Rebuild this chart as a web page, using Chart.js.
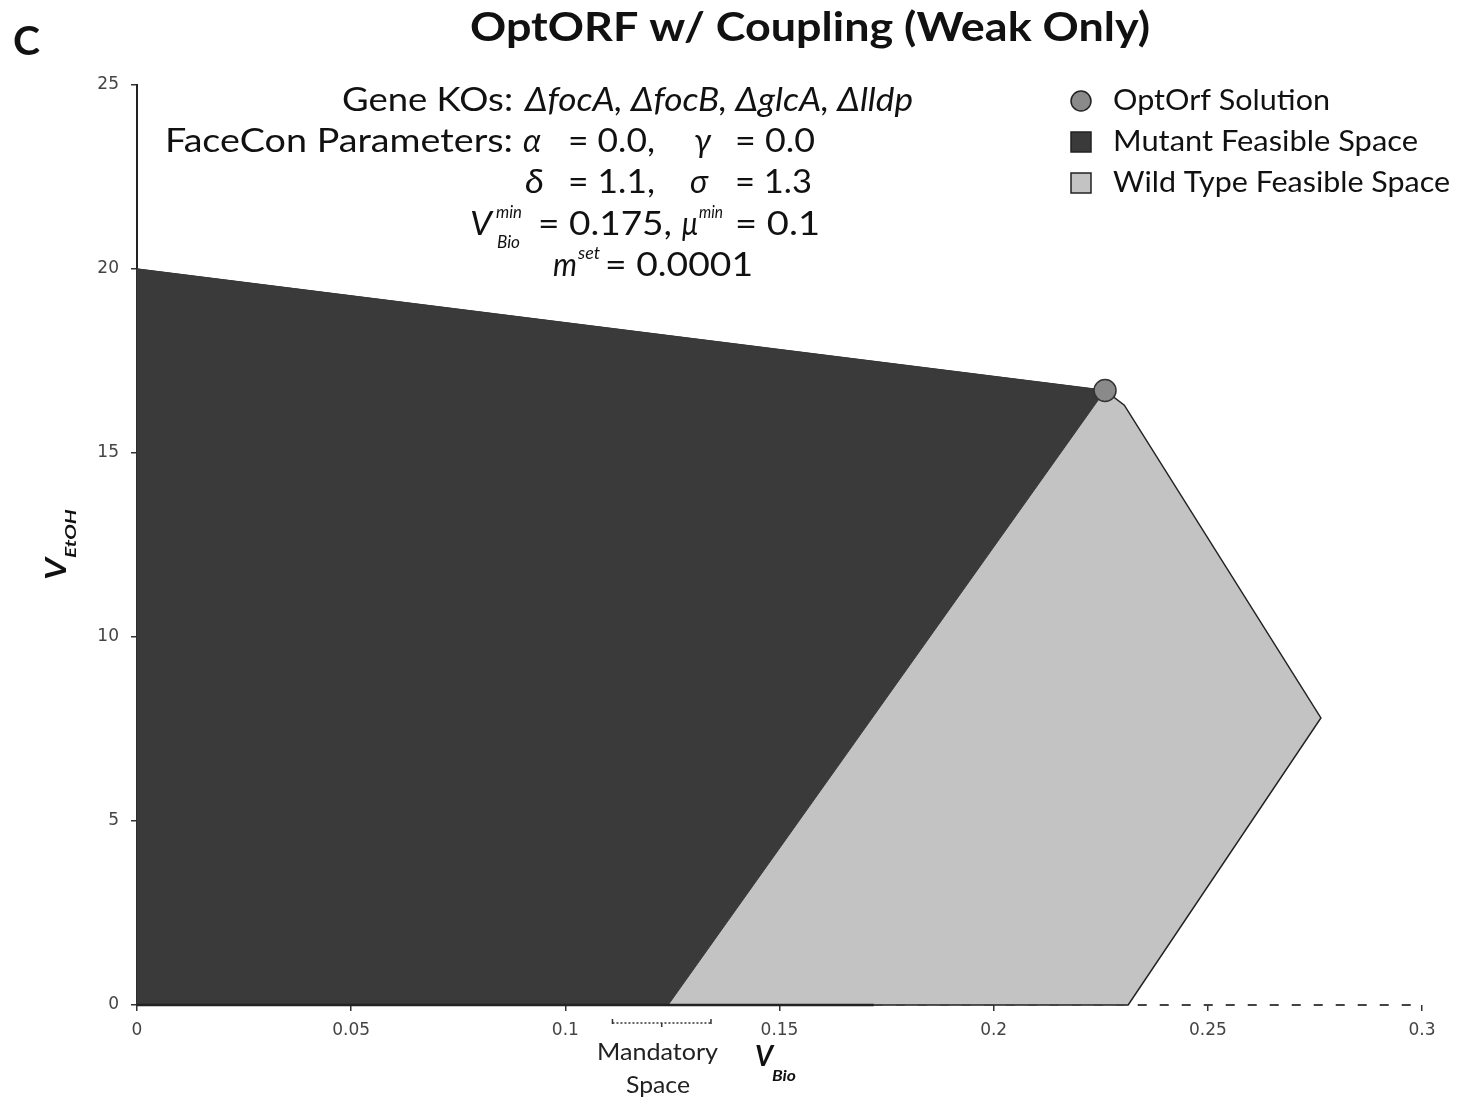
<!DOCTYPE html>
<html>
<head>
<meta charset="utf-8">
<script src="https://cdn.jsdelivr.net/npm/chart.js@4/dist/chart.umd.min.js"></script>
<style>
  body { margin: 0; background: #fff; }
  #wrap { width: 1458px; height: 1110px; }
</style>
</head>
<body>
<div id="wrap"><canvas id="ChartDetail" width="1458" height="1110"></canvas></div>
<script>
// feasible spaces (x = v_Bio, y = v_EtOH)
var mutantX = [0, 0, 0.226, 0.124, 0];
var mutantY = [0, 20, 16.7, 0, 0];
var wildX = [0, 0, 0.226, 0.2305, 0.2764, 0.2314, 0];
var wildY = [0, 20, 16.7, 16.3, 7.8, 0, 0];
var solutionX = [0.226];
var solutionY = [16.7];
// x axis: solid part, then dashed part
var axisSolidX = [0, 0.172];
var axisDashX = [0.172, 0.3];
var mandatoryRange = [0.111, 0.134];

var xTickLabels = ['0', '0.05', '0.1', '0.15', '0.2', '0.25', '0.3'];
var yTickLabels = ['0', '5', '10', '15', '20', '25'];

var textFont = "Lato, 'Noto Sans', sans-serif";

function pts(xs, ys) {
    return xs.map(function(x, i) { return {x: x, y: ys[i]}; });
}

var dark = '#3a3a3a';
var light = '#c3c3c3';

// draw str between left and right, stretched a little to fit that width
function fitText(ctx, str, left, right, y, style, size) {
    ctx.font = style + ' ' + size + 'px ' + textFont;
    ctx.textAlign = 'left';
    var w = ctx.measureText(str).width;
    var sx = Math.max(0.8, Math.min(1.3, (right - left) / w));
    ctx.save();
    ctx.translate(left, y);
    ctx.scale(sx, 1);
    ctx.fillText(str, 0, 0);
    ctx.restore();
}

var textPlugin = {
    id: 'figText',
    afterDraw: function(chart) {
        var ctx = chart.ctx;
        var xs = chart.scales.x;
        ctx.save();
        ctx.fillStyle = '#111';
        ctx.textBaseline = 'middle';

        // panel letter + title
        fitText(ctx, 'C', 13, 40, 42, 'bold', 40);
        fitText(ctx, 'OptORF w/ Coupling (Weak Only)', 470, 1150, 28, 'bold', 40);

        // parameter block
        var R = 'normal', I = 'italic';
        fitText(ctx, 'Gene KOs:', 342, 513, 101, R, 32);
        fitText(ctx, '\u0394focA, \u0394focB, \u0394glcA, \u0394lldp', 525, 913, 101, I, 32);

        fitText(ctx, 'FaceCon Parameters:', 165, 513, 142, R, 32);
        fitText(ctx, '\u03b1', 523, 541, 142, I, 32);
        fitText(ctx, '= 0.0,', 568, 655, 142, R, 32);
        fitText(ctx, '\u03b3', 694, 711, 142, I, 32);
        fitText(ctx, '= 0.0', 735, 815, 142, R, 32);

        fitText(ctx, '\u03b4', 525, 544, 183, I, 32);
        fitText(ctx, '= 1.1,', 568, 655, 183, R, 32);
        fitText(ctx, '\u03c3', 690, 708, 183, I, 32);
        fitText(ctx, '= 1.3', 735, 812, 183, R, 32);

        fitText(ctx, 'V', 470, 492, 225, I, 32);
        fitText(ctx, 'min', 496, 522, 213, I, 17);
        fitText(ctx, 'Bio', 497, 520, 243, I, 17);
        fitText(ctx, '= 0.175,', 538, 672, 225, R, 32);
        fitText(ctx, '\u03bc', 682, 698, 225, I, 32);
        fitText(ctx, 'min', 699, 723, 213, I, 17);
        fitText(ctx, '= 0.1', 735, 820, 225, R, 32);

        fitText(ctx, 'm', 553, 577, 266, I, 32);
        fitText(ctx, 'set', 578, 600, 254, I, 17);
        fitText(ctx, '= 0.0001', 605, 753, 266, R, 32);

        // legend
        var legendRight = [1330, 1418, 1450];
        var items = chart.data.datasets.filter(function(d) { return d.legendKind; });
        items.forEach(function(d, i) {
            var cy = 101 + i * 41;
            ctx.lineWidth = 1.5;
            ctx.strokeStyle = '#222';
            ctx.fillStyle = d.backgroundColor;
            if (d.legendKind === 'circle') {
                ctx.beginPath();
                ctx.arc(1081, cy, 10, 0, Math.PI * 2);
                ctx.fill();
                ctx.stroke();
            } else {
                ctx.fillRect(1071, cy - 10, 20, 20);
                ctx.strokeRect(1071, cy - 10, 20, 20);
            }
            ctx.fillStyle = '#111';
            fitText(ctx, d.label, 1113, legendRight[i], cy, 'normal', 29);
        });

        // axis titles
        ctx.fillStyle = '#111';
        fitText(ctx, 'V', 755, 773, 1057, 'bold italic', 28);
        fitText(ctx, 'Bio', 772, 796, 1076, 'bold italic', 16);

        ctx.save();
        ctx.translate(57, 569);
        ctx.rotate(-Math.PI / 2);
        fitText(ctx, 'V', -11, 11, 0, 'bold italic', 28);
        fitText(ctx, 'EtOH', 11, 61, 14, 'bold italic', 16);
        ctx.restore();

        // mandatory space bracket
        var a = xs.getPixelForValue(mandatoryRange[0]);
        var b = xs.getPixelForValue(mandatoryRange[1]);
        ctx.strokeStyle = '#333';
        ctx.lineWidth = 1.5;
        ctx.setLineDash([2, 2]);
        ctx.beginPath();
        ctx.moveTo(a, 1023); ctx.lineTo(b, 1023);
        ctx.stroke();
        ctx.setLineDash([]);
        ctx.beginPath();
        ctx.moveTo(a, 1019); ctx.lineTo(a, 1024);
        ctx.moveTo(b, 1019); ctx.lineTo(b, 1024);
        ctx.moveTo((a + b) / 2, 1023); ctx.lineTo((a + b) / 2, 1027);
        ctx.stroke();
        ctx.fillStyle = '#222';
        fitText(ctx, 'Mandatory', 597, 718, 1052, 'normal', 24);
        fitText(ctx, 'Space', 626, 690, 1085, 'normal', 24);

        ctx.restore();
    }
};

var config = {
    type: 'scatter',
    data: {
        datasets: [
            {
                label: 'OptOrf Solution',
                legendKind: 'circle',
                data: pts(solutionX, solutionY),
                backgroundColor: '#8a8a8a',
                borderColor: '#333',
                borderWidth: 1.5,
                pointRadius: 11,
                order: 0,
                clip: false
            },
            {
                label: 'Mutant Feasible Space',
                legendKind: 'square',
                data: pts(mutantX, mutantY),
                showLine: true,
                fill: 'shape',
                backgroundColor: dark,
                borderColor: dark,
                borderWidth: 1,
                pointRadius: 0,
                tension: 0,
                order: 1,
                clip: false
            },
            {
                label: 'Wild Type Feasible Space',
                legendKind: 'square',
                data: pts(wildX, wildY),
                showLine: true,
                fill: 'shape',
                backgroundColor: light,
                borderColor: '#222',
                borderWidth: 1.5,
                pointRadius: 0,
                tension: 0,
                order: 2,
                clip: false
            },
            {
                label: 'axis',
                data: pts(axisSolidX, [0, 0]),
                showLine: true,
                borderColor: '#222',
                borderWidth: 2.5,
                pointRadius: 0,
                order: -1,
                clip: false
            },
            {
                label: 'axis dashed',
                data: pts(axisDashX, [0, 0]),
                showLine: true,
                borderColor: '#444',
                borderWidth: 2,
                borderDash: [9, 13],
                pointRadius: 0,
                order: -1,
                clip: false
            }
        ]
    },
    options: {
        responsive: false,
        animation: false,
        layout: { padding: { left: 0, right: 36, top: 85, bottom: 0 } },
        plugins: {
            legend: { display: false },
            tooltip: { enabled: false }
        },
        scales: {
            x: {
                type: 'linear',
                min: 0,
                max: 0.3,
                afterFit: function(s) { s.height = 105; },
                afterBuildTicks: function(s) {
                    s.ticks = xTickLabels.map(function(t) { return {value: parseFloat(t)}; });
                },
                border: { display: false },
                grid: { drawOnChartArea: false, drawTicks: true, tickLength: 6, color: '#333', lineWidth: 1.5 },
                ticks: {
                    padding: 9,
                    color: '#444',
                    font: { family: "'DejaVu Sans'", size: 17 },
                    maxRotation: 0,
                    callback: function(v, i) { return xTickLabels[i]; }
                }
            },
            y: {
                type: 'linear',
                min: 0,
                max: 25,
                afterFit: function(s) { s.width = 137; },
                afterBuildTicks: function(s) {
                    s.ticks = yTickLabels.map(function(t) { return {value: parseFloat(t)}; });
                },
                border: { display: true, color: '#222', width: 2 },
                grid: { drawOnChartArea: false, drawTicks: true, tickLength: 6, color: '#333', lineWidth: 1.5 },
                ticks: {
                    padding: 12,
                    color: '#444',
                    font: { family: "'DejaVu Sans'", size: 17 },
                    callback: function(v, i) { return yTickLabels[i]; }
                }
            }
        }
    },
    plugins: [textPlugin]
};

window.onload = function() {
    var ctx = document.getElementById('ChartDetail').getContext('2d');
    window.myChart = new Chart(ctx, config);
};
</script>
</body>
</html>
